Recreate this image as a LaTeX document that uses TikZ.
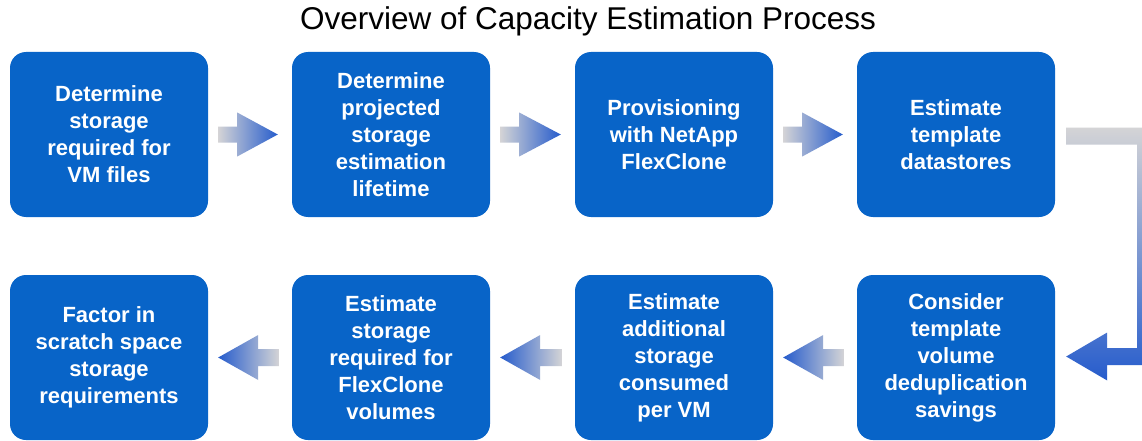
\documentclass[tikz,border=0pt]{standalone}
\usepackage{fontspec}
\setmainfont{Liberation Sans}
\usetikzlibrary{calc}

\definecolor{stepblue}{RGB}{8,100,200}
\definecolor{flowblue}{RGB}{38,92,204}
\definecolor{flowgray}{RGB}{212,212,214}

\tikzset{
  stepbox/.style={fill=stepblue, rounded corners=16pt, minimum width=198pt,
    minimum height=165pt, inner sep=0pt, align=center, text=white,
    font=\bfseries\fontsize{22}{27}\selectfont},
  heading/.style={anchor=base, inner sep=0pt, text=black,
    font=\fontsize{31.5}{36}\selectfont},
  toright/.style={left color=flowgray, right color=flowblue},
  toleft/.style={left color=flowblue, right color=flowgray},
  turndown/.style={top color=flowgray, bottom color=flowblue}
}

% right-pointing block arrow between two boxes
\newcommand\blockright[2]{%
  \shade[toright] ($(#1.east)+(10,-8)$) -- ($(#1.east)+(29,-8)$)
    -- ($(#1.east)+(29,-22)$) -- ($(#2.west)+(-14,0)$)
    -- ($(#1.east)+(29,22)$) -- ($(#1.east)+(29,8)$)
    -- ($(#1.east)+(10,8)$) -- cycle;}
% left-pointing block arrow from box #1 (right) to box #2 (left)
\newcommand\blockleft[2]{%
  \shade[toleft] ($(#2.east)+(10,0)$) -- ($(#2.east)+(50,-22.5)$)
    -- ($(#2.east)+(50,-8.5)$) -- ($(#1.west)+(-13,-8.5)$)
    -- ($(#1.west)+(-13,8.5)$) -- ($(#2.east)+(50,8.5)$)
    -- ($(#2.east)+(50,22.5)$) -- cycle;}

\begin{document}
\begin{tikzpicture}[x=1pt,y=-1pt]
\useasboundingbox (0,0) rectangle (1142,441);
\fill[white] (0,0) rectangle (1142,441);

\node[heading] (title) at (588,30) {Overview of Capacity Estimation Process};

% first row, left to right
\node[stepbox] (b1) at (109,134.5) {Determine\\storage\\required for\\VM files};
\node[stepbox] (b2) at (391,134.5) {Determine\\projected\\storage\\estimation\\lifetime};
\node[stepbox] (b3) at (674,134.5) {Provisioning\\with NetApp\\FlexClone};
\node[stepbox] (b4) at (956,134.5) {Estimate\\template\\datastores};

% second row, right to left
\node[stepbox] (c4) at (956,357.5) {Consider\\template\\volume\\deduplication\\savings};
\node[stepbox] (c3) at (674,357.5) {Estimate\\additional\\storage\\consumed\\per VM};
\node[stepbox] (c2) at (391,357.5) {Estimate\\storage\\required for\\FlexClone\\volumes};
\node[stepbox] (c1) at (109,357.5) {Factor in\\scratch space\\storage\\requirements};

\blockright{b1}{b2}
\blockright{b2}{b3}
\blockright{b3}{b4}

\blockleft{c4}{c3}
\blockleft{c3}{c2}
\blockleft{c2}{c1}

% bent arrow leading from the first row down to the second
\coordinate (bt) at ($(b4.east)+(11,1.5)$);
\coordinate (bb) at ($(c4.east)+(11,-1)$);
\coordinate (xo) at ($(b4.east)+(99,0)$);
\coordinate (xi) at ($(b4.east)+(82,0)$);
\shade[turndown] ($(bt)+(0,-8.5)$) -- ($(xo |- bt)+(0,-8.5)$)
  -- ($(xo |- bb)+(0,8.5)$) -- ($(bb)+(41,8.5)$) -- ($(bb)+(41,24)$)
  -- (bb) -- ($(bb)+(41,-24)$) -- ($(bb)+(41,-8.5)$)
  -- ($(xi |- bb)+(0,-8.5)$) -- ($(xi |- bt)+(0,8.5)$)
  -- ($(bt)+(0,8.5)$) -- cycle;
\end{tikzpicture}
\end{document}
